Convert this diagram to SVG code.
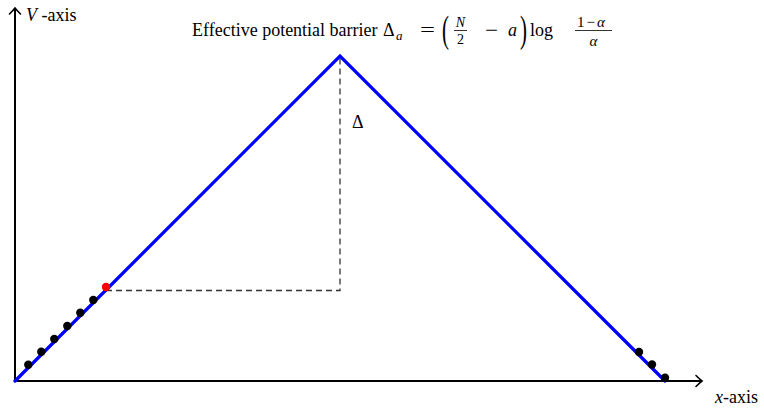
<svg xmlns="http://www.w3.org/2000/svg" width="764" height="411" viewBox="0 0 764 411">
<style>
.t{font-family:"Liberation Serif","Times New Roman",serif;font-size:18px;fill:#000}
.i{font-style:italic}
.s{font-size:13px}
.s14{font-size:14px}
.s15{font-size:15px}
.big{font-size:38px}
.ax{stroke:#000;stroke-width:2;fill:none}
.blue{stroke:#0000ff;stroke-width:3.3;fill:none;stroke-linecap:round}
.dash{stroke:#333;stroke-width:1.3;stroke-dasharray:6,4;fill:none}
.dot{fill:#000}
.bar{stroke:#000;stroke-width:0.8}
</style>
<defs>
<marker id="arr" markerWidth="12" markerHeight="14" refX="9" refY="7" orient="auto" markerUnits="userSpaceOnUse">
<path d="M3,1.5 Q7,5.5 9,7 Q7,8.5 3,12.5" stroke="#000" stroke-width="1.6" fill="none" stroke-linecap="round"/>
</marker>
</defs>
<g id="connectors">
<line class="ax" x1="15" y1="381" x2="702" y2="381" marker-end="url(#arr)"/>
<line class="ax" x1="15" y1="381" x2="15" y2="8" marker-end="url(#arr)"/>
<polyline class="dash" points="106,290.5 340,290.5 340,57"/>
<polyline class="blue" points="15,381 340,56 665,381"/>
</g>
<g id="dots">
<circle class="dot" cx="28.3" cy="364.8" r="4.2"/>
<circle class="dot" cx="41.3" cy="351.7" r="4.2"/>
<circle class="dot" cx="54.3" cy="339" r="4.2"/>
<circle class="dot" cx="67.3" cy="326" r="4.2"/>
<circle class="dot" cx="80.3" cy="312.7" r="4.2"/>
<circle class="dot" cx="93.3" cy="300" r="4.2"/>
<circle cx="106" cy="287" r="4.2" fill="#ff0000"/>
<circle class="dot" cx="639" cy="352" r="4.2"/>
<circle class="dot" cx="652" cy="364.5" r="4.2"/>
<circle class="dot" cx="665" cy="377.7" r="4.2"/>
</g>
<g id="labels">
<text class="t" x="26" y="21"><tspan class="i">V</tspan> -axis</text>
<text class="t" x="715" y="403"><tspan class="i">x</tspan>-axis</text>
<text class="t" x="352" y="128">Δ</text>
</g>
<g id="title">
<text class="t" x="192" y="36">Effective potential barrier</text>
<text class="t" x="383" y="36">Δ</text>
<text class="t i s" x="396" y="40">a</text>
<text class="t" x="420" y="36" textLength="15" lengthAdjust="spacingAndGlyphs">=</text>
<text class="t big" x="0" y="0" transform="translate(442,42) scale(0.55,1)">(</text>
<text class="t i s14" x="460.5" y="27" text-anchor="middle">N</text>
<line class="bar" x1="454" y1="30.5" x2="467" y2="30.5"/>
<text class="t s14" x="460.5" y="44" text-anchor="middle">2</text>
<text class="t" x="485" y="36" textLength="13" lengthAdjust="spacingAndGlyphs">−</text>
<text class="t i" x="508" y="36">a</text>
<text class="t big" x="0" y="0" transform="translate(520,42) scale(0.55,1)">)</text>
<text class="t" x="530" y="36">log</text>
<text class="t s15" x="577" y="27">1<tspan dx="2">−</tspan><tspan class="i" dx="2">α</tspan></text>
<line class="bar" x1="575" y1="30.5" x2="612" y2="30.5"/>
<text class="t i s15" x="593.5" y="46" text-anchor="middle">α</text>
</g>
</svg>
